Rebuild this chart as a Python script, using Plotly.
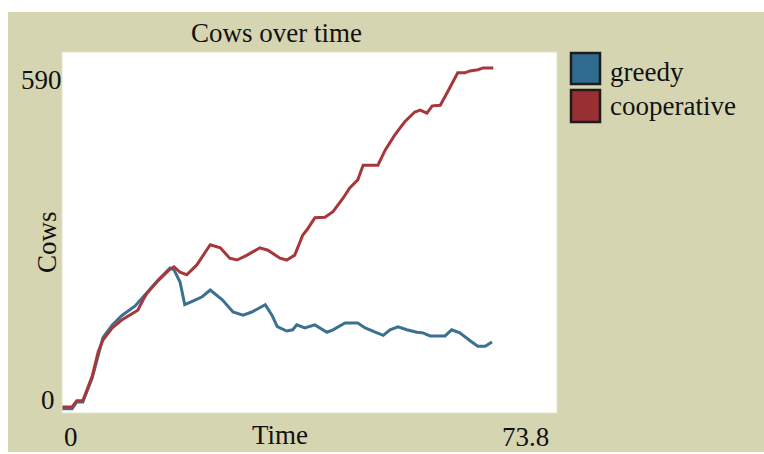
import plotly.graph_objects as go

# ---- data ----
series_names = ["greedy", "cooperative"]

time_greedy = [0, 1.5, 2.2, 3.1, 4.5, 5.4, 6.1, 7.5, 8.9, 10.9, 12.7, 14.3, 16.1, 16.7,
               17.6, 18.3, 19.5, 20.9, 22.1, 23.9, 25.5, 27.0, 28.3, 30.3, 31.3, 32.1,
               33.5, 34.4, 35.0, 36.2, 37.7, 39.5, 40.4, 42.2, 44.1, 45.2, 46.7, 47.9,
               48.9, 50.1, 51.4, 52.9, 53.8, 54.9, 57.1, 58.1, 59.3, 60.1, 61.1, 62.0,
               63.1, 64.1]
greedy = [7, 7, 18, 18, 57, 95, 123, 144, 159, 175, 198, 217, 237, 234,
          214, 177, 183, 190, 201, 185, 165, 160, 165, 177, 160, 141,
          134, 136, 144, 139, 144, 132, 136, 147, 147, 139, 132, 127,
          136, 141, 136, 132, 131, 126, 126, 136, 131, 124, 116, 109,
          109, 116]

time_coop = [0, 1.5, 2.2, 3.1, 4.5, 5.4, 6.1, 7.5, 8.9, 10.4, 11.3, 12.1, 12.7, 14.3,
             16.1, 16.7, 17.6, 18.6, 20.1, 22.1, 23.6, 25.0, 26.1, 27.6, 29.5, 30.7,
             32.5, 33.5, 34.7, 35.9, 36.5, 37.7, 39.2, 40.4, 41.9, 42.9, 44.1, 44.9,
             47.1, 48.2, 49.6, 51.1, 52.6, 53.4, 54.4, 55.2, 56.4, 57.5, 59.0, 60.1,
             60.8, 62.0, 62.8, 64.3]
cooperative = [10, 10, 20, 20, 60, 100, 119, 139, 152, 162, 168, 185, 196, 216,
               235, 239, 230, 226, 242, 275, 270, 253, 250, 258, 270, 266,
               253, 250, 258, 291, 299, 319, 320, 329, 351, 368, 381, 405,
               405, 430, 454, 476, 492, 495, 490, 502, 503, 525, 556, 556,
               559, 561, 564, 564]

x_range = [0, 73.8]
y_range = [0, 590]
x_tick_labels = ["0", "73.8"]
y_tick_labels = ["0", "590"]
title_text = "Cows over time"
x_title = "Time"
y_title = "Cows"

# ---- styling ----
W, H = 764, 454
L, R, T, B = 62, 557, 52, 413   # plot area in pixels
BEIGE = "#d6d5b1"
colors = ["#3a7190", "#a8373b"]
swatch_colors = ["#2f6a8f", "#9a2f33"]
FONT = "Liberation Serif"
FS = 27


def px(x):
    return (x - L) / (R - L)


def py(y):
    return (B - y) / (B - T)


fig = go.Figure()
fig.add_trace(go.Scatter(x=time_greedy, y=greedy, mode="lines", name=series_names[0],
                         line=dict(color=colors[0], width=3), showlegend=False))
fig.add_trace(go.Scatter(x=time_coop, y=cooperative, mode="lines", name=series_names[1],
                         line=dict(color=colors[1], width=3), showlegend=False))

shapes = []
# white outer strips
for x0, x1, y0, y1 in [(-5, W + 5, -5, 12), (-5, 8, -5, H + 5), (-5, W + 5, 452, H + 5)]:
    shapes.append(dict(type="rect", xref="paper", yref="paper", layer="below",
                       x0=px(x0), x1=px(x1), y0=py(y1), y1=py(y0),
                       fillcolor="white", line=dict(width=0)))
# plot edge
shapes.append(dict(type="rect", xref="paper", yref="paper", layer="above",
                   x0=0, x1=1, y0=0, y1=1, line=dict(color="#e4e2cc", width=1)))
# legend swatches
sw = [(53, 84), (90, 122)]
for (y0, y1), c in zip(sw, swatch_colors):
    shapes.append(dict(type="rect", xref="paper", yref="paper",
                       x0=px(571), x1=px(600), y0=py(y1), y1=py(y0),
                       fillcolor=c, line=dict(color="#1c1c1c", width=2.5)))

font = dict(family=FONT, size=FS, color="#111111")
ann = [
    dict(text=title_text, x=px(276), y=py(33), xref="paper", yref="paper",
         xanchor="center", yanchor="middle", showarrow=False, font=font),
    dict(text=series_names[0], x=px(608), y=py(72), xref="paper", yref="paper",
         xanchor="left", yanchor="middle", showarrow=False, font=font),
    dict(text=series_names[1], x=px(608), y=py(106), xref="paper", yref="paper",
         xanchor="left", yanchor="middle", showarrow=False, font=font),
    dict(text=x_title, x=px(280), y=py(435), xref="paper", yref="paper",
         xanchor="center", yanchor="middle", showarrow=False, font=font),
    dict(text=y_title, x=px(47), y=py(242), xref="paper", yref="paper",
         xanchor="center", yanchor="middle", showarrow=False, font=font, textangle=-90),
    dict(text=x_tick_labels[0], x=x_range[0], y=py(437), xref="x", yref="paper",
         xanchor="left", yanchor="middle", showarrow=False, font=font),
    dict(text=x_tick_labels[1], x=x_range[1], y=py(437), xref="x", yref="paper",
         xanchor="right", yanchor="middle", showarrow=False, font=font, xshift=-6),
    dict(text=y_tick_labels[0], x=px(57), y=py(400), xref="paper", yref="paper",
         xanchor="right", yanchor="middle", showarrow=False, font=font),
    dict(text=y_tick_labels[1], x=px(64), y=py(80), xref="paper", yref="paper",
         xanchor="right", yanchor="middle", showarrow=False, font=font),
]

fig.update_layout(
    width=W, height=H,
    margin=dict(l=L, r=W - R, t=T, b=H - B, pad=0),
    paper_bgcolor=BEIGE, plot_bgcolor="white",
    shapes=shapes, annotations=ann, showlegend=False,
    xaxis=dict(range=x_range, showgrid=False, zeroline=False, showline=False,
               showticklabels=False, ticks="", fixedrange=True),
    yaxis=dict(range=y_range, showgrid=False, zeroline=False, showline=False,
               showticklabels=False, ticks="", fixedrange=True),
)

fig.write_html("out.html", config={"displayModeBar": False},
               post_script="document.body.style.margin='0';document.body.style.overflow='hidden';")
